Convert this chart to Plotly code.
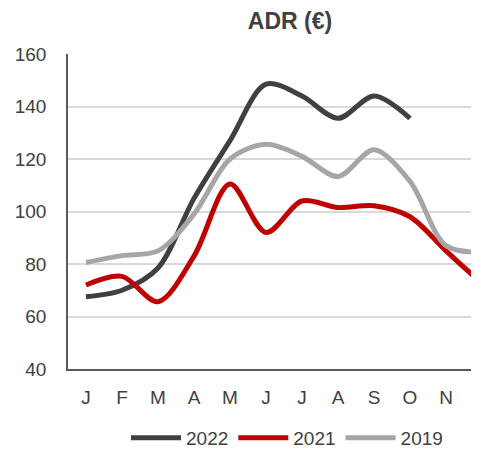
import plotly.graph_objects as go

months = ["J", "F", "M", "A", "M", "J", "J", "A", "S", "O", "N", "D"]
x_idx = list(range(12))
adr_2022 = [67.5, 70, 78.5, 105, 127, 148.5, 144, 135.5, 144, 135.5]
adr_2021 = [72, 75.3, 65.6, 83, 110.5, 92, 104, 101.5, 102.2, 98, 85, 72.5]
adr_2019 = [80.6, 83.2, 85, 99, 120, 125.6, 121, 113.3, 123.5, 111.5, 87, 84.5]

series = [("2022", adr_2022, "#404040"), ("2021", adr_2021, "#C00000"), ("2019", adr_2019, "#A6A6A6")]

fig = go.Figure()
for name, vals, col in series:
    fig.add_trace(go.Scatter(
        x=x_idx[:len(vals)], y=vals, name=name, mode="lines",
        line=dict(color=col, width=5, shape="spline", smoothing=0.9),
        cliponaxis=True,
    ))

# page has an 8px body margin; figure sized so it fills the 479x457 window
OFF = 8
W, H = 479 - OFF, 457 - OFF
L, T = 68 - OFF, 54 - OFF
B = H - (373 - OFF)
plot_w = W - L
plot_h = H - T - B
step = 36.0
x_end = -0.5 + plot_w / step

fig.update_layout(
    width=W, height=H,
    margin=dict(l=L, r=0, t=T, b=B),
    paper_bgcolor="white", plot_bgcolor="white",
    font=dict(family="Liberation Sans, Arial, sans-serif", color="#404040", size=19),
    title=dict(text="<b>ADR (€)</b>", x=(290 - OFF) / W, xref="container", xanchor="center",
               y=1 - (21 - OFF) / H, yref="container", yanchor="middle",
               font=dict(size=23, color="#404040")),
    showlegend=True,
    legend=dict(orientation="h", x=(287 - 68) / plot_w, xanchor="center",
                y=-(443 - 373) / plot_h, yanchor="middle",
                font=dict(size=19, color="#404040"), itemwidth=50,
                bgcolor="rgba(0,0,0,0)"),
    xaxis=dict(range=[-0.5, x_end], tickmode="array", tickvals=x_idx[:11], ticktext=months[:11],
               showgrid=False, showline=True, linecolor="#595959", linewidth=1.5,
               ticks="", ticklabelstandoff=10, tickfont=dict(size=19, color="#404040"),
               zeroline=False, fixedrange=True),
    yaxis=dict(range=[40, 160], tickvals=[40, 60, 80, 100, 120, 140, 160],
               showgrid=True, gridcolor="#D9D9D9", gridwidth=1.5,
               showline=True, linecolor="#595959", linewidth=1.5,
               ticks="", ticklabelstandoff=16, tickfont=dict(size=19, color="#404040"),
               zeroline=False, fixedrange=True),
)

fig.add_annotation(text=months[11], xref="paper", yref="paper",
                   x=(481 - 68) / plot_w, y=-(397 - 373) / plot_h,
                   xanchor="center", yanchor="middle", showarrow=False,
                   font=dict(size=19, color="#404040"))

fig.write_html("out.html")
